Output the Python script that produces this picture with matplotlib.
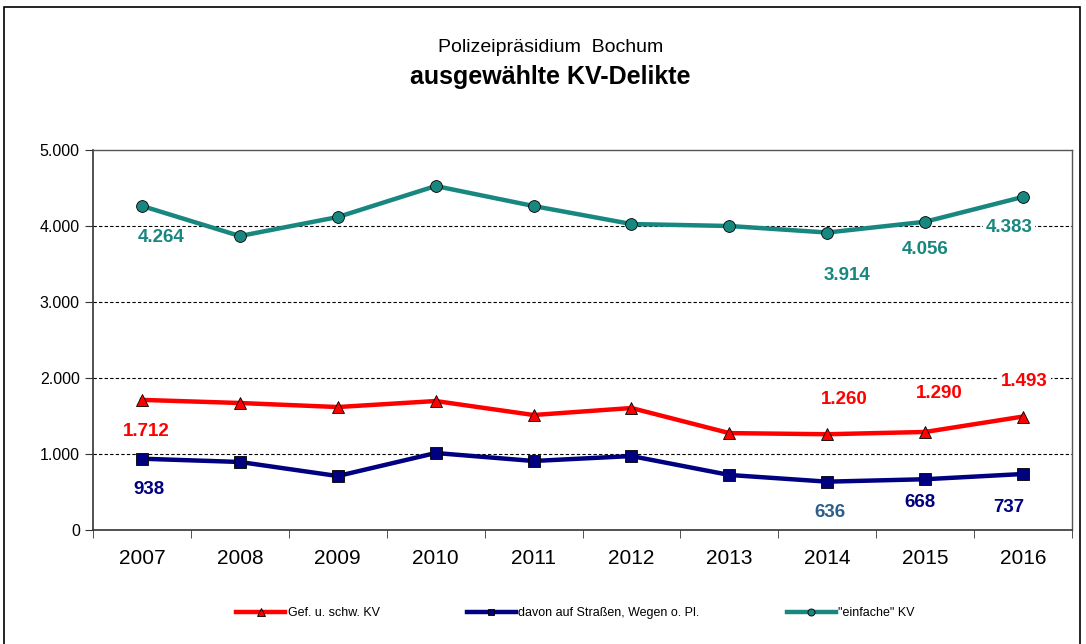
import numpy as np
import matplotlib.pyplot as plt
from matplotlib.patches import Rectangle
from matplotlib.ticker import FuncFormatter

plt.rcParams['font.family'] = ['Liberation Sans Narrow', 'Liberation Sans', 'DejaVu Sans']

years = ["2007", "2008", "2009", "2010", "2011", "2012", "2013", "2014", "2015", "2016"]
einfache_kv = [4264, 3868, 4118, 4526, 4263, 4026, 4000, 3914, 4056, 4383]
gef_schw_kv = [1712, 1671, 1618, 1697, 1513, 1605, 1275, 1260, 1290, 1493]
davon_strassen = [938, 895, 710, 1013, 908, 973, 724, 636, 668, 737]

series_names = ["Gef. u. schw. KV", "davon auf Straßen, Wegen o. Pl.", '"einfache" KV']

# which points get a value label: (index, dx, dy) offsets in points
teal_labels = [(0, 14, -23), (7, 14, -31), (8, 0, -20), (9, -10, -22)]
red_labels = [(0, 3, -23), (7, 12, 25), (8, 10, 28), (9, 1, 25)]
blue_labels = [(0, 5, -22), (7, 2, -22), (8, -4, -17), (9, -10, -24)]

teal = "#18877f"
red = "#ff0000"
navy = "#000080"


def fmt_de(v):
    return f"{int(v):,}".replace(",", ".")


fig = plt.figure(figsize=(10.86, 6.44), dpi=100)
fig.patches.append(Rectangle((4 / 1086, -0.1), 1076 / 1086, 1.0 - 7 / 644 + 0.1,
                             transform=fig.transFigure, fill=False,
                             edgecolor="black", linewidth=1.2))

ax = fig.add_axes([93 / 1086, 1 - 530 / 644, (1072 - 93) / 1086, 380 / 644])
x = np.arange(len(years))

ax.plot(x, gef_schw_kv, color=red, lw=3.2, marker="^", ms=9,
        markerfacecolor=red, markeredgecolor="black", markeredgewidth=0.6,
        label=series_names[0], zorder=4)
ax.plot(x, davon_strassen, color=navy, lw=3.2, marker="s", ms=8,
        markerfacecolor=navy, markeredgecolor="black", markeredgewidth=0.6,
        label=series_names[1], zorder=4)
ax.plot(x, einfache_kv, color=teal, lw=3.2, marker="o", ms=8.5,
        markerfacecolor=teal, markeredgecolor="black", markeredgewidth=0.6,
        label=series_names[2], zorder=4)

box = dict(boxstyle="square,pad=0.15", facecolor="white", edgecolor="none")
for vals, labs, col in [(einfache_kv, teal_labels, teal),
                        (gef_schw_kv, red_labels, red),
                        (davon_strassen, blue_labels, navy)]:
    for i, dx, dy in labs:
        c = "#2e5f8a" if (vals is davon_strassen and i == 7) else col
        ax.annotate(fmt_de(vals[i]), (x[i], vals[i]), xytext=(dx, dy),
                    textcoords="offset points", ha="center", va="center",
                    fontsize=13.5, fontweight="bold", color=c, bbox=box, zorder=3)

ax.set_xlim(-0.5, len(years) - 0.5)
ax.set_ylim(0, 5000)
ax.set_yticks([0, 1000, 2000, 3000, 4000, 5000])
ax.yaxis.set_major_formatter(FuncFormatter(lambda v, p: fmt_de(v)))
ax.set_xticks(x)
ax.set_xticklabels(years, fontsize=15)
ax.set_xticks(np.arange(-0.5, len(years)), minor=True)
ax.tick_params(axis="x", which="major", length=0, pad=14)
ax.tick_params(axis="x", which="minor", length=6, direction="out", color="#333333")
ax.tick_params(axis="y", length=6, direction="out", labelsize=11.5, color="#333333")

for yv in [1000, 2000, 3000, 4000]:
    ax.axhline(yv, color="black", lw=0.8, ls=(0, (3, 2)), zorder=1)

for s in ["left", "bottom"]:
    ax.spines[s].set_color("#333333")
    ax.spines[s].set_linewidth(1.2)
for s in ["top", "right"]:
    ax.spines[s].set_color("#555555")
    ax.spines[s].set_linewidth(1.0)

fig.text(0.507, 1 - 47 / 644, "Polizeipräsidium  Bochum", ha="center", va="center", fontsize=14)
fig.text(0.507, 1 - 77 / 644, "ausgewählte KV-Delikte", ha="center", va="center",
         fontsize=18, fontweight="bold")

fig.legend(loc="center", bbox_to_anchor=(0.53, 1 - 613 / 644), ncol=3, frameon=False,
           fontsize=9, handlelength=3.9, columnspacing=7, handletextpad=0.2,
           markerscale=0.6)

fig.savefig("out.png", dpi=100)
